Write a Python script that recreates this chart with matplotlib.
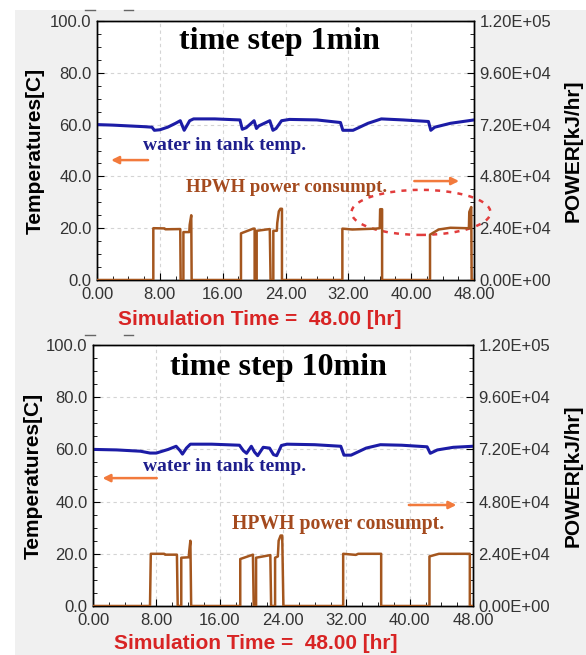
import numpy as np
import matplotlib.pyplot as plt
import matplotlib as mpl
from matplotlib.patches import Ellipse, Rectangle
from matplotlib.lines import Line2D
from matplotlib.ticker import MultipleLocator, FormatStrFormatter

# ---------------- data ----------------

# time step 1min: water in tank temperature [C]
t1_temp = [0, 2, 4, 6, 7.0, 7.3, 8.0, 9.0, 10.0, 10.6, 11.1, 11.8, 12.3, 15, 18.2, 18.5, 19.0,
           20.0, 20.3, 20.6, 22.0, 22.4, 22.8, 23.5, 24.5, 28, 31.0, 31.3, 32.6, 34.5, 36.2,
           39, 42.2, 42.5, 43.0, 45.0, 48]
temp1 = [60.0, 59.8, 59.5, 59.2, 59.0, 57.8, 58.0, 59.0, 60.5, 61.5, 57.8, 61.5, 62.2, 62.2, 61.8,
         58.2, 58.8, 61.5, 58.5, 59.5, 61.5, 57.8, 58.5, 61.5, 62.0, 61.8, 60.8, 57.8, 57.8, 60.5,
         62.2, 61.8, 61.2, 57.8, 59.0, 60.5, 61.8]

# time step 1min: HPWH power consumption [kJ/hr]
t1_pow = [0, 7.17, 7.17, 8.6, 8.7, 10.6, 10.65, 11.0, 11.0, 11.75, 11.8, 12.0, 12.05,
          18.33, 18.33, 19.9, 20.07, 20.07, 20.33, 20.33, 22.0, 22.1, 22.45, 22.45, 22.9, 22.95,
          23.15, 23.35, 23.55, 23.55, 31.24, 31.24, 32.5, 35.5, 36.0, 36.05, 36.3, 36.3,
          42.4, 42.4, 43.5, 45.0, 47.0, 47.35, 47.4, 47.65, 47.7, 48]
pow1 = [0, 0, 24000, 23900, 23500, 23600, 0, 0, 22200, 22200, 25500, 30000, 0,
        0, 21600, 23800, 23800, 0, 0, 22800, 23600, 0, 0, 22800, 22800, 26400,
        31800, 33000, 33000, 0, 0, 23800, 23400, 23800, 24000, 32800, 32800, 0,
        0, 21000, 23400, 24200, 24000, 24000, 31500, 33800, 0, 0]

# time step 10min: water in tank temperature [C]
t10_temp = [0, 3, 6, 7.2, 8.0, 9.5, 10.5, 11.0, 11.3, 11.8, 12.3, 15, 18.5, 19.0, 19.4, 20.0,
            20.4, 20.8, 21.5, 22.3, 22.8, 23.2, 23.8, 24.5, 28, 31.3, 31.7, 32.6, 34.5, 36.3,
            39, 42.2, 42.6, 43.5, 45.5, 48]
temp10 = [60.0, 59.8, 59.3, 58.6, 58.6, 60.0, 61.2, 59.5, 58.2, 60.5, 62.0, 62.0, 61.6, 59.5,
          58.5, 61.2, 59.0, 57.6, 60.8, 60.5, 58.0, 57.6, 61.5, 62.0, 61.8, 61.2, 57.8, 57.8,
          60.5, 61.8, 61.6, 61.0, 58.5, 59.8, 60.8, 61.2]

# time step 10min: HPWH power consumption [kJ/hr]
t10_pow = [0, 7.2, 7.25, 7.3, 9.0, 9.1, 10.6, 10.7, 11.15, 11.15, 12.1, 12.15, 12.3, 12.4,
           18.6, 18.6, 20.2, 20.3, 20.6, 20.6, 22.4, 22.5, 23.0, 23.0, 23.35, 23.45, 23.7, 23.9,
           24.05, 31.6, 31.6, 33.2, 33.5, 36.4, 36.4, 42.5, 42.5, 43.7, 47.6, 47.6, 48]
pow10 = [0, 0, 12000, 24000, 24000, 23600, 23600, 0, 0, 22200, 22400, 25000, 30000, 0,
         0, 21600, 23600, 0, 0, 22200, 23400, 0, 0, 22200, 22800, 30000, 32400, 32400,
         0, 0, 24000, 23500, 24000, 24000, 0, 0, 22800, 24000, 24000, 0, 0]

titles = ['time step 1min', 'time step 10min']

# ---------------- styles ----------------
SERIF = 'Liberation Serif'
SANS = 'Liberation Sans'
BLUE = '#1c1ca6'
BROWN = '#a4561e'
ORANGE = '#f27a3c'
RED = '#d82424'

mpl.rcParams['font.family'] = SANS


def draw_panel(fig, rect, title, t_temp, temp, t_pow, pw, lay):
    ax = fig.add_axes(rect)
    ax2 = ax.twinx()

    # grid behind everything
    ax.grid(True, which='major', color='#d4d4d4', linestyle=(0, (3, 3)), linewidth=0.8)
    ax.set_axisbelow(True)

    ax.plot(t_temp, temp, color=BLUE, lw=2.2, zorder=3)
    ax2.plot(t_pow, pw, color=BROWN, lw=1.8, zorder=3)

    ax.set_xlim(0, 48)
    ax.set_ylim(0, 100)
    ax2.set_ylim(0, 1.2e5)

    ax.xaxis.set_major_locator(MultipleLocator(8))
    ax.xaxis.set_minor_locator(MultipleLocator(2))
    ax.yaxis.set_major_locator(MultipleLocator(20))
    ax.yaxis.set_minor_locator(MultipleLocator(5))
    ax2.yaxis.set_major_locator(MultipleLocator(24000))
    ax2.yaxis.set_minor_locator(MultipleLocator(6000))
    ax.xaxis.set_major_formatter(FormatStrFormatter('%.2f'))
    ax.yaxis.set_major_formatter(FormatStrFormatter('%.1f'))
    ax2.yaxis.set_major_formatter(FormatStrFormatter('%.2E'))

    for a in (ax, ax2):
        a.tick_params(which='both', direction='in', labelsize=12, labelcolor='#333333', pad=4)
        a.tick_params(which='major', length=5)
        a.tick_params(which='minor', length=3)
        for s in a.spines.values():
            s.set_linewidth(1.0)
    ax.tick_params(axis='x', pad=5)

    # axis labels
    ax.text(lay['ylab_x'], 0.5, 'Temperatures[C]', transform=ax.transAxes, rotation=90,
            ha='center', va='center', fontsize=15, fontweight='bold')
    ax.text(lay['y2lab_x'], 0.5, 'POWER[kJ/hr]', transform=ax.transAxes, rotation=90,
            ha='center', va='center', fontsize=15, fontweight='bold')
    ax.text(lay['xlab'][0], lay['xlab'][1], 'Simulation Time =  48.00 [hr]', transform=ax.transAxes,
            ha='center', va='center', fontsize=15, fontweight='bold', color=RED)

    # annotations
    ax.text(lay['title'][0], lay['title'][1], title, ha='center', va='center',
            fontsize=23, fontweight='bold', family=SERIF, zorder=5)
    ax.text(lay['water'][0], lay['water'][1], 'water in tank temp.', ha='left', va='center',
            fontsize=14, fontweight='bold', family=SERIF, color='#1e1e8c', zorder=5)
    ax.text(lay['hpwh'][0], lay['hpwh'][1], 'HPWH power consumpt.', ha='left', va='center',
            fontsize=lay['hpwh_fs'], fontweight='bold', family=SERIF, color='#a44a1e', zorder=5)

    arrow = dict(arrowstyle='-|>', color=ORANGE, lw=1.8, mutation_scale=11, shrinkA=0, shrinkB=0)
    ax.annotate('', xy=lay['larrow'][1], xytext=lay['larrow'][0], arrowprops=arrow, zorder=5)
    ax.annotate('', xy=lay['rarrow'][1], xytext=lay['rarrow'][0], arrowprops=arrow, zorder=5)

    if 'ellipse' in lay:
        (ex, ey), ew, eh = lay['ellipse']
        ell = Ellipse((ex, ey), ew, eh, fill=False, edgecolor='#e23c3c', lw=1.8,
                      linestyle=(0, (2, 2.5)), clip_on=False, zorder=6)
        ax.add_patch(ell)
    return ax, ax2


# Create a figure of given size
fig = plt.figure(figsize=(5.86, 6.55), dpi=100, facecolor='white')
fig.add_artist(Rectangle((15 / 586, 0), 1, 1 - 10 / 655, transform=fig.transFigure,
                         facecolor='#f0f0f0', edgecolor='none', zorder=-10))

# small leftover dashes at the top of each panel
for yy in (10, 335):
    for x0, x1 in ((85, 95), (124, 133)):
        fig.add_artist(Line2D([x0 / 586, x1 / 586], [1 - yy / 655] * 2, color='#666666', lw=1))

lay_top = dict(ylab_x=-0.1645, y2lab_x=1.263, xlab=(0.432, -0.154), title=(23.2, 91.9),
               water=(5.86, 52.1), hpwh=(11.3, 35.9), hpwh_fs=13.5,
               larrow=((6.5, 46.3), (1.8, 46.3)), rarrow=((40.4, 38.2), (46.1, 38.2)),
               ellipse=((41.25, 26.1), 17.7, 17.4))
lay_bot = dict(ylab_x=-0.158, y2lab_x=1.263, xlab=(0.429, -0.142), title=(23.4, 91.2),
               water=(6.3, 53.3), hpwh=(17.5, 31.4), hpwh_fs=14.2,
               larrow=((8.05, 49.0), (1.2, 49.0)), rarrow=((39.9, 38.7), (45.9, 38.7)))

draw_panel(fig, [97 / 586, 1 - 280 / 655, 377 / 586, 259 / 655], titles[0],
           t1_temp, temp1, t1_pow, pow1, lay_top)
draw_panel(fig, [93 / 586, 1 - 606 / 655, 380 / 586, 261 / 655], titles[1],
           t10_temp, temp10, t10_pow, pow10, lay_bot)

# save plot to file
plt.savefig('out.png', dpi=100)
plt.close()
